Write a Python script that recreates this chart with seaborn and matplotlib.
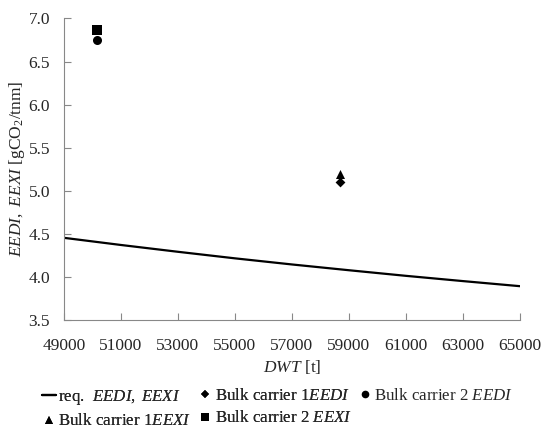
import pandas as pd
import seaborn as sns
import matplotlib.pyplot as plt
from matplotlib.lines import Line2D

# required EEDI / EEXI curve
req_dwt = [49000, 51000, 53000, 55000, 57000, 59000, 61000, 63000, 65000]
req_val = [4.455, 4.372, 4.293, 4.217, 4.146, 4.079, 4.014, 3.953, 3.894]

# ships
ship_names = ["Bulk carrier 1 EEDI", "Bulk carrier 2 EEDI", "Bulk carrier 1 EEXI", "Bulk carrier 2 EEXI"]
ship_dwt = [58700, 50150, 58700, 50150]
ship_val = [5.10, 6.75, 5.20, 6.87]
ship_markers = ["D", "o", "^", "s"]
ship_sizes = [5.0, 6.5, 6.5, 6.5]

x_ticks = [49000, 51000, 53000, 55000, 57000, 59000, 61000, 63000, 65000]
y_ticks = [3.5, 4.0, 4.5, 5.0, 5.5, 6.0, 6.5, 7.0]

sns.set_style("ticks")
plt.rcParams["font.family"] = ["Liberation Serif", "DejaVu Serif"]
plt.rcParams["mathtext.fontset"] = "custom"
plt.rcParams["mathtext.rm"] = "Liberation Serif"
plt.rcParams["mathtext.it"] = "Liberation Serif:italic"
plt.rcParams["font.size"] = 12.5

fig = plt.figure(figsize=(5.41, 4.28), dpi=100)
ax = fig.add_axes([0.118, 0.252, 0.843, 0.705])

req = pd.DataFrame({"dwt": req_dwt, "val": req_val})
sns.lineplot(data=req, x="dwt", y="val", color="black", linewidth=1.6, ax=ax)

for name, x, y, m, s in zip(ship_names, ship_dwt, ship_val, ship_markers, ship_sizes):
    d = pd.DataFrame({"dwt": [x], "val": [y]})
    sns.scatterplot(data=d, x="dwt", y="val", marker=m, s=s ** 2, color="black",
                    edgecolor="black", linewidth=0, ax=ax)

ax.set_xlim(49000, 65000)
ax.set_ylim(3.5, 7.0)
ax.set_xticks(x_ticks)
ax.set_yticks(y_ticks)
ax.set_yticklabels([f"{v:.1f}" for v in y_ticks])
ax.tick_params(direction="in", length=5, color="#888888", labelsize=12.5)
ax.tick_params(axis="x", pad=13)
ax.tick_params(axis="y", pad=10)
for sp in ["left", "bottom"]:
    ax.spines[sp].set_color("#888888")
for sp in ["top", "right"]:
    ax.spines[sp].set_visible(False)

ax.set_xlabel(r"$\mathit{DWT}$ [t]", fontsize=12.5, labelpad=3)
ax.set_ylabel(r"$\mathit{EEDI,\ EEXI}$ [gCO$_2$/tnm]", fontsize=12.5, labelpad=1)

def h(m, s):
    return Line2D([], [], marker=m, markersize=s, color="black", linestyle="none", markeredgewidth=0)

leg_kw = dict(loc="upper left", frameon=False, fontsize=12.2, borderpad=0,
              borderaxespad=0, labelspacing=0.38)

col1 = [Line2D([], [], color="black", linewidth=1.6), h("^", 5.5)]
lab1 = [r"req.  $\mathit{EEDI,\ EEXI}$", r"Bulk carrier 1$\mathit{EEXI}$"]
col2 = [h("D", 4.5), h("s", 5.5)]
lab2 = [r"Bulk carrier 1$\mathit{EEDI}$", r"Bulk carrier 2 $\mathit{EEXI}$"]
col3 = [h("o", 5.5)]
lab3 = [r"Bulk carrier 2 $\mathit{EEDI}$"]

l1 = fig.legend(col1, lab1, bbox_to_anchor=(42 / 541, 1 - 388 / 428),
                handlelength=0.85, handletextpad=0.1, **leg_kw)
fig.add_artist(l1)
l2 = fig.legend(col2, lab2, bbox_to_anchor=(200 / 541, 1 - 388 / 428),
                handlelength=0.55, handletextpad=0.35, **leg_kw)
fig.add_artist(l2)
fig.legend(col3, lab3, bbox_to_anchor=(360 / 541, 1 - 388 / 428),
           handlelength=0.55, handletextpad=0.3, **leg_kw)

fig.savefig("out.png", dpi=100)
